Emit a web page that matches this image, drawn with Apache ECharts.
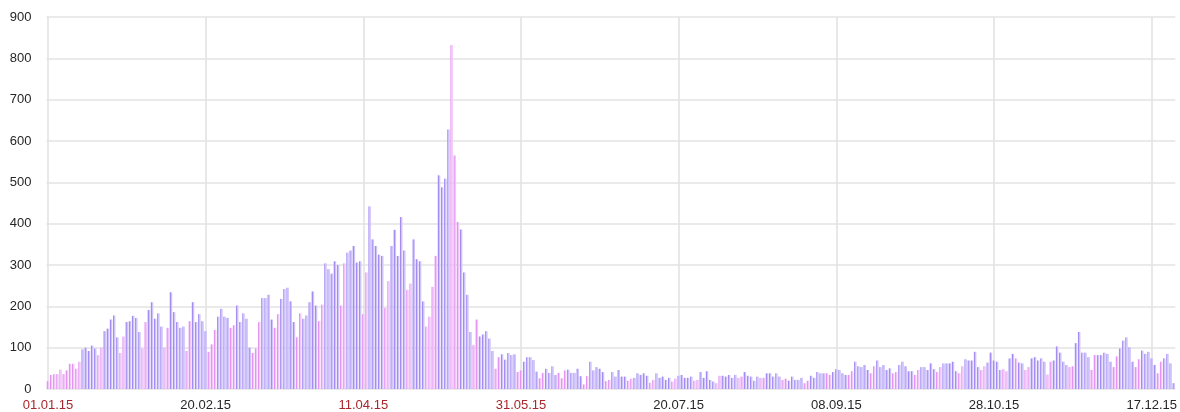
<!DOCTYPE html>
<html>
<head>
<meta charset="utf-8">
<script src="https://cdn.jsdelivr.net/npm/echarts@6/dist/echarts.min.js"></script>
<style>
html,body{margin:0;padding:0;background:#fff;}
#chart{width:1180px;height:412px;}
</style>
</head>
<body>
<div id="chart"></div>
<script>
// Daily values, 01.01.2015 .. 24.12.2015
var values = [
  19,34,36,36,47,36,45,61,61,49,
  66,96,100,92,105,98,82,100,140,146,
  168,178,125,87,127,162,164,177,172,138,
  98,162,191,210,170,183,151,100,148,234,
  186,162,148,151,92,164,210,162,181,164,
  140,90,108,143,175,194,175,172,148,154,
  202,162,183,170,100,87,98,162,220,220,
  228,168,148,181,218,242,245,212,162,125,
  183,170,178,210,236,202,164,204,304,290,
  279,309,300,202,304,330,335,346,306,309,
  181,282,442,362,346,325,322,196,261,346,
  385,322,416,335,240,255,362,314,309,212,
  151,175,247,322,517,488,509,628,832,565,
  404,386,282,228,138,106,168,127,132,140,
  122,92,49,77,84,71,87,82,84,41,
  45,66,77,77,70,42,26,39,49,39,
  55,34,39,26,45,47,39,39,49,31,
  11,31,66,45,53,49,41,19,
  22, 41,30,46,30,30, 20,25, 27,38,34,38,32, 15,22, 38,27,30,22,27, 18,25,
  32,34,27,27,30, 20,22, 41,27,43,22,18, 14,32, 32,30,34,27,34, 27,30,
  41,32,30,20,30, 27,27, 38,38,30,38,30, 22,25, 20,30,22,22,27, 14,20,
  32,27,41,38,38, 38,34, 41,48,46,38,34, 34,43, 66,55,53,58,46, 38,55,
  69,53,58,46,50, 38,41, 58,66,55,43,43, 34,46, 53,53,46,62,48, 41,53,
  62,62,62,66,43, 38,55, 72,69,69,90,53, 46,55, 64,88,69,66,46, 48,43,
  74,85,74,64,62, 46,53, 74,77,69,74,66, 35,66, 69,103,88,66,58, 53,55,
  111,138,88,88,77, 46,82, 82,82,88,85,66, 53,79, 98,117,125,101,66, 53,72,
  93,85,90,74,58, 38,66, 74,85,62,14
];
// Non-working days besides Saturdays/Sundays
var holidays = ['01.01.15','02.01.15','05.01.15','06.01.15','07.01.15','08.01.15','09.01.15',
  '23.02.15','09.03.15','01.05.15','04.05.15','11.05.15','12.06.15','04.11.15'];
var yTicks = [0,100,200,300,400,500,600,700,800,900];
var labelStep = 50;

// category labels dd.mm.yy
var categories = [];
var offDay = [];
for (var i = 0; i < values.length; i++) {
  var d = new Date(Date.UTC(2015, 0, 1 + i));
  var dd = ('0' + d.getUTCDate()).slice(-2);
  var mm = ('0' + (d.getUTCMonth() + 1)).slice(-2);
  var s = dd + '.' + mm + '.15';
  categories.push(s);
  var wd = d.getUTCDay();
  offDay.push(wd === 0 || wd === 6 || holidays.indexOf(s) >= 0);
}

function grad(a, b) {
  return new echarts.graphic.LinearGradient(0, 0, 1, 0, [
    {offset: 0, color: a}, {offset: 0.35, color: a}, {offset: 0.45, color: b}, {offset: 1, color: b}
  ]);
}
var purple = grad('#a48cf3', '#cfc3fb');
var pink = grad('#e393f1', '#f1c6f8');

var seriesData = values.map(function (v, i) {
  return {value: v, itemStyle: {color: offDay[i] ? pink : purple}};
});

var chart = echarts.init(document.getElementById('chart'), null, {renderer: 'canvas'});
chart.setOption({
  animation: false,
  backgroundColor: '#fff',
  grid: {left: 46.4, right: 3.4, top: 17, bottom: 22, containLabel: false},
  xAxis: {
    type: 'category',
    data: categories,
    boundaryGap: true,
    axisLine: {show: false},
    axisTick: {show: false},
    axisLabel: {
      interval: function (idx) { return idx % labelStep === 0; },
      margin: 10,
      fontSize: 13,
      fontFamily: 'Arial, "Liberation Sans", sans-serif',
      color: function (val, idx) {
        var k = categories.indexOf(val);
        return offDay[k] ? '#a8262c' : '#262626';
      }
    },
    splitLine: {
      show: true,
      alignWithLabel: true,
      interval: function (idx) { return idx % labelStep === 0; },
      lineStyle: {color: '#e3e3e3', width: 1.6}
    }
  },
  yAxis: {
    type: 'value',
    min: yTicks[0],
    max: yTicks[yTicks.length - 1],
    interval: 100,
    axisLine: {show: false},
    axisTick: {show: false},
    axisLabel: {
      margin: 15,
      fontSize: 13,
      fontFamily: 'Arial, "Liberation Sans", sans-serif',
      color: '#262626',
      padding: [3, 0, 0, 0]
    },
    splitLine: {show: true, lineStyle: {color: '#e3e3e3', width: 1.6}}
  },
  series: [{
    type: 'bar',
    data: seriesData,
    barCategoryGap: '22%'
  }]
});
</script>
</body>
</html>
